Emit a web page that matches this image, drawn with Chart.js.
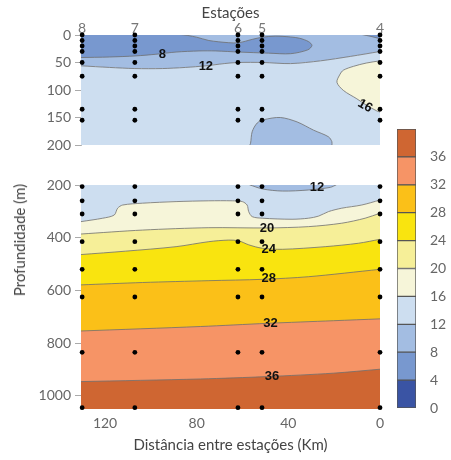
<!DOCTYPE html>
<html>
<head>
<meta charset="utf-8">
<script src="https://cdn.jsdelivr.net/npm/chart.js@4"></script>
<style>
  body { margin: 0; background: #fff; }
  #wrap { position: relative; width: 451px; height: 460px; overflow: hidden; }
  canvas { position: absolute; }
  #ylab { position: absolute; left: 19px; top: 240px; transform: translate(-50%, -50%) rotate(-90deg);
          font: 15px Lato, sans-serif; color: #444; white-space: nowrap; }
</style>
</head>
<body>
<div id="wrap">
  <canvas id="top" width="451" height="152" style="left:0;top:0"></canvas>
  <canvas id="bottom" width="451" height="285" style="left:0;top:175px"></canvas>
  <canvas id="bar" width="71" height="305" style="left:380px;top:115px"></canvas>
  <div id="ylab">Profundidade (m)</div>
</div>
<script>
// stations (distance in km) and sampled depths
const stationKm = [130, 107, 62, 51.5, 0]
const stationNames = ["8", "7", "6", "5", "4"]
const topSampleDepths = [0, 10, 20, 30, 50, 75, 135, 155]
const deepSampleDepths = [206, 260, 310, 415, 520, 625, 835, 1045]

const distTicks = [120, 80, 40, 0]
const topDepthTicks = [0, 50, 100, 150, 200]
const deepDepthTicks = [200, 400, 600, 800, 1000]

const levels = [0, 4, 8, 12, 16, 20, 24, 28, 32, 36]
const levelStep = 4
const levelColors = ["#3a54a4", "#7898cf", "#a3bde2", "#cddef0", "#f6f5d9", "#f6ef98", "#f9e40f", "#fbc018", "#f69466", "#cf6632"]

// contour lines, [km, depth] - upper panel (0-200 m)
const iso12Top = [[130.5, 56], [118, 59], [107, 61], [95, 61], [85, 59], [76, 56], [68, 52], [62, 50], [51, 50], [39, 52], [26, 47], [13, 39], [0, 30]]
const iso8Core = [[131, -1], [87.7, -1], [80, 4], [74.7, 10], [66, 14], [61.6, 14], [55.8, 8], [51.4, 4], [45.7, 2], [39, 3.6], [35, 6], [31.2, 12],
                  [29.7, 19], [31.5, 27], [39, 34], [48.6, 33], [61.6, 31], [71.7, 29], [79, 29], [89, 31], [97.8, 35], [106.5, 38], [118, 40], [131, 41]]
const iso8Corner = [[8, -1], [3.5, 3], [0, 6.7], [-1, 7], [-1, -1]]
const iso16Top = [[-1, 47], [0, 47], [6, 51], [11.6, 57], [16, 64], [17.4, 71], [18.8, 86], [15.9, 101], [10.1, 116], [5.8, 128], [1.4, 138], [0, 140], [-1, 140]]
const iso12Pocket = [[57, 201], [56.5, 197], [55.8, 176], [53.6, 160], [50.7, 154], [43.5, 150], [36.2, 158], [29, 173], [22.5, 185], [21, 194], [21, 201]]

// contour lines - lower panel (200-1050 m)
const iso12Deep = [[57, 199], [51.3, 215], [42.6, 223], [31.3, 219], [21.7, 209], [19, 199]]
const iso16Deep = [[130.5, 339], [121, 326], [116, 314], [114.5, 288], [112.3, 276], [103.6, 269], [89, 263], [74.7, 260], [64.5, 260], [60.1, 263],
                   [58, 276], [57.3, 301], [55.8, 320], [51.4, 326], [38.4, 330], [31.2, 326], [26.8, 318], [22.5, 301], [16.7, 288], [8, 276], [0, 257]]
const iso20 = [[130.5, 386], [103.6, 371], [74.7, 362], [49.3, 363], [31.2, 358], [16.7, 345], [6.5, 326], [0, 307]]
const iso24 = [[130.5, 464], [111, 451], [89, 434], [74.7, 415], [66, 409], [61.6, 412], [57.3, 427], [51.4, 440], [42.6, 444], [23.9, 434], [9.4, 421], [0, 406]]
const iso28 = [[130.5, 579], [103.6, 570], [74.7, 563], [51.4, 558], [31.2, 548], [0, 520]]
const iso32 = [[130.5, 754], [78.3, 737], [49.3, 725], [20.3, 715], [0, 708]]
const iso36 = [[130.5, 946], [78.3, 936], [49.3, 927], [20.3, 914], [0, 899]]

// where the contour values are written
const topLabels = [{ text: "8", km: 95, depth: 36 }, { text: "12", km: 76, depth: 57 }, { text: "16", km: 6.5, depth: 129, angle: 30 }]
const deepLabels = [{ text: "12", km: 27.5, depth: 210 }, { text: "20", km: 49.3, depth: 364 }, { text: "24", km: 48.6, depth: 443 },
                    { text: "28", km: 48.6, depth: 556 }, { text: "32", km: 47.8, depth: 727 }, { text: "36", km: 47.1, depth: 927 }]

Chart.defaults.font.family = "Lato, 'Open Sans', sans-serif"
Chart.defaults.color = "#666"

const lineColor = "#6e6e6e"
const pts = arr => arr.map(([x, y]) => ({ x: x, y: y }))
// keep the plot area exactly where the layout puts it
const noPad = s => { s.paddingTop = 0; s.paddingBottom = 0; s.paddingLeft = 0; s.paddingRight = 0 }

function band(arr, color, fillTo, order, stroke) {
    return {
        data: pts(arr), fill: { value: fillTo }, backgroundColor: color,
        borderColor: lineColor, borderWidth: stroke ? 0.8 : 0,
        pointRadius: 0, tension: 0.3, order: order
    }
}
function shape(arr, color) {
    return {
        data: pts(arr), fill: "shape", backgroundColor: color,
        borderColor: lineColor, borderWidth: 0.8,
        pointRadius: 0, tension: 0.3, order: 10
    }
}
function dots(depths) {
    let data = []
    stationKm.forEach(km => depths.forEach(d => data.push({ x: km, y: d })))
    return { data: data, showLine: false, pointRadius: 2.4, pointBorderWidth: 0,
             pointBackgroundColor: "#000", clip: false, order: 0 }
}
function labelPlugin(list) {
    return {
        id: "contourLabels",
        afterDatasetsDraw(chart) {
            let ctx = chart.ctx
            let x = chart.scales.x, y = chart.scales.y
            ctx.save()
            ctx.font = "bold 13px 'Liberation Sans', Arial, sans-serif"
            ctx.fillStyle = "#111"
            ctx.textAlign = "center"
            ctx.textBaseline = "middle"
            list.forEach(l => {
                ctx.save()
                ctx.translate(x.getPixelForValue(l.km), y.getPixelForValue(l.depth))
                ctx.rotate((l.angle || 0) * Math.PI / 180)
                ctx.fillText(l.text, 0, 0)
                ctx.restore()
            })
            ctx.restore()
        }
    }
}
function depthAxis(min, max, ticks) {
    return {
        type: "linear", min: min, max: max, reverse: true,
        afterBuildTicks: s => { s.ticks = ticks.map(v => ({ value: v })) },
        ticks: { padding: 4, color: "#666", font: { size: 14 }, callback: v => String(v) },
        grid: { drawOnChartArea: false, tickLength: 6, color: "#aaa" },
        border: { color: "#bbb" },
        afterFit: s => { s.width = 81; noPad(s) }
    }
}
const common = {
    responsive: false,
    animation: false,
    plugins: { legend: { display: false }, tooltip: { enabled: false } }
}

// upper panel
new Chart(document.getElementById("top"), {
    type: "line",
    data: {
        datasets: [
            dots(topSampleDepths),
            shape(iso8Core, levelColors[1]),
            shape(iso8Corner, levelColors[1]),
            shape(iso16Top, levelColors[4]),
            shape(iso12Pocket, levelColors[2]),
            band(iso12Top, levelColors[3], 200, 19, true),
            band(iso12Top, levelColors[2], 0, 20, false)
        ]
    },
    options: Object.assign({}, common, {
        layout: { padding: { left: 0, right: 71, top: 0, bottom: 7 } },
        scales: {
            x: {
                type: "linear", position: "top", min: 0, max: 130.5, reverse: true,
                afterBuildTicks: s => { s.ticks = stationKm.map(v => ({ value: v })) },
                ticks: { callback: v => stationNames[stationKm.indexOf(v)], autoSkip: false, maxRotation: 0,
                         padding: -2, color: "#777", font: { size: 14 } },
                grid: { display: false, drawTicks: false }, border: { display: false },
                title: { display: true, text: "Estações", color: "#444", font: { size: 15 }, padding: { top: 4, bottom: 0 } },
                afterFit: s => { s.height = 35; noPad(s) }
            },
            y: depthAxis(0, 200, topDepthTicks)
        }
    }),
    plugins: [labelPlugin(topLabels)]
})

// lower panel
new Chart(document.getElementById("bottom"), {
    type: "line",
    data: {
        datasets: [
            dots(deepSampleDepths),
            shape(iso12Deep, levelColors[2]),
            band(iso36, levelColors[9], 1050, 14, true),
            band(iso32, levelColors[8], 1050, 15, true),
            band(iso28, levelColors[7], 1050, 16, true),
            band(iso24, levelColors[6], 1050, 17, true),
            band(iso20, levelColors[5], 1050, 18, true),
            band(iso16Deep, levelColors[4], 1050, 19, true),
            band(iso16Deep, levelColors[3], 200, 20, false)
        ]
    },
    options: Object.assign({}, common, {
        layout: { padding: { left: 0, right: 71, top: 10, bottom: 0 } },
        scales: {
            x: {
                type: "linear", position: "bottom", min: 0, max: 130.5, reverse: true,
                afterBuildTicks: s => { s.ticks = distTicks.map(v => ({ value: v })) },
                ticks: { autoSkip: false, maxRotation: 0, padding: 6, color: "#666", font: { size: 14 } },
                grid: { display: false, drawTicks: false }, border: { display: false },
                title: { display: true, text: "Distância entre estações (Km)", color: "#444", font: { size: 15 }, padding: { top: 0, bottom: 6 } },
                afterFit: s => { s.height = 51; noPad(s) }
            },
            y: depthAxis(200, 1050, deepDepthTicks)
        }
    }),
    plugins: [labelPlugin(deepLabels)]
})

// colour scale
new Chart(document.getElementById("bar"), {
    type: "bar",
    data: {
        labels: [""],
        datasets: levels.map((lv, i) => ({
            data: [levelStep], backgroundColor: levelColors[i],
            borderColor: "#555", borderWidth: 1, borderSkipped: false,
            barPercentage: 1, categoryPercentage: 1
        }))
    },
    options: Object.assign({}, common, {
        layout: { padding: { left: 17, right: 0, top: 14, bottom: 12 } },
        scales: {
            x: { display: false, stacked: true },
            y: {
                stacked: true, position: "right", min: 0, max: 40,
                afterBuildTicks: s => { s.ticks = levels.map(v => ({ value: v })) },
                ticks: { padding: 14, color: "#666", font: { size: 14 } },
                grid: { display: false, drawTicks: false }, border: { display: false },
                afterFit: s => { s.width = 35; noPad(s) }
            }
        }
    })
})
</script>
</body>
</html>
